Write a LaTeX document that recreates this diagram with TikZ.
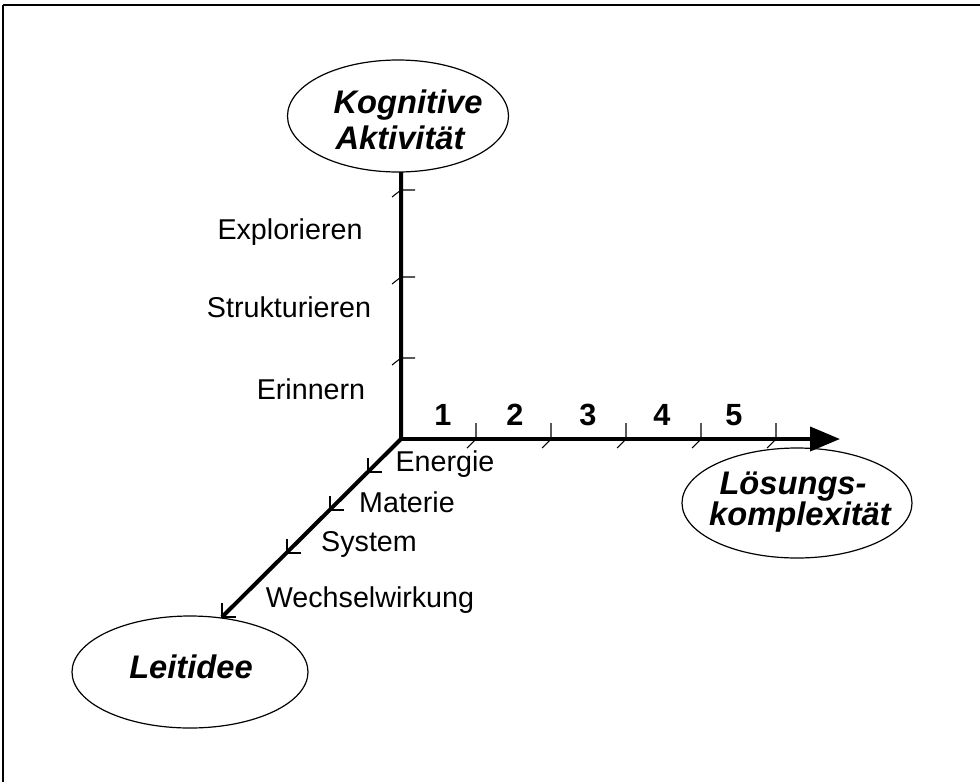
\documentclass[tikz,border=0pt]{standalone}
\usepackage{fontspec}
\setmainfont{Liberation Sans}
\usetikzlibrary{arrows.meta,shapes.geometric}
\begin{document}
\begin{tikzpicture}[x=0.75pt,y=-0.75pt,
 axisline/.style={line width=3pt},
 tickline/.style={line width=0.8pt},
 ell/.style={draw, ellipse, line width=0.9pt, inner sep=0pt},
 lab/.style={font=\fontsize{21.5}{25}\selectfont, anchor=base, inner sep=0pt},
 num/.style={font=\fontsize{23}{27}\selectfont\bfseries, anchor=base, inner sep=0pt},
 ttl/.style={font=\fontsize{24.5}{28}\selectfont\bfseries\itshape, anchor=base, inner sep=0pt}]
\useasboundingbox (0,0) rectangle (980,782);
\draw[line width=1.3pt] (3,5) -- (980,5);
\draw[line width=0.8pt] (3,5) -- (3,782);

% ellipses
\node[ell, minimum width=165.75pt, minimum height=84pt] (K) at (398,116) {};
\node[ell, minimum width=172.5pt, minimum height=82.5pt] (LK) at (797,503) {};
\node[ell, minimum width=177pt, minimum height=84pt] (LI) at (190,672) {};
\node[ttl] (K1) at (408,113) {Kognitive};
\node[ttl] (K2) at (400,149) {Aktivität};
\node[ttl] (LK1) at (793,494) {Lösungs-};
\node[ttl] (LK2) at (800,525) {komplexität};
\node[ttl] (LI1) at (191,678) {Leitidee};

% axes
\coordinate (O) at (401,439);
\coordinate (Ktop) at (401,172);
\coordinate (Hend) at (840,439);
\coordinate (Dend) at (222,617);
\draw[axisline, line join=miter] (Ktop) -- (O) -- (Dend);
\draw[axisline, -{Triangle[length=22.5pt,width=18pt]}] (O) -- (Hend);

% ticks
\foreach \x in {476,551,626,701,776}
  \draw[tickline] (\x,423) -- (\x,439) -- ++(-9,9);
\foreach \y in {358,277,190}
  \draw[tickline] (415,\y) -- (401,\y) -- ++(-9,7);
\foreach \x/\y in {368/472,330/510,287/553,222/617}
  \draw[tickline] (\x,\y-14) -- (\x,\y) -- ++(14,0);

% numbers
\node[num] (n1) at (443,425) {1};
\node[num] (n2) at (515,425) {2};
\node[num] (n3) at (588,425) {3};
\node[num] (n4) at (662,425) {4};
\node[num] (n5) at (734,425) {5};

% vertical labels
\node[lab] (e1) at (290,239) {Explorieren};
\node[lab] (e2) at (289,317) {Strukturieren};
\node[lab] (e3) at (311,399) {Erinnern};

% diagonal labels
\node[lab] (d1) at (445,471) {Energie};
\node[lab] (d2) at (407,512) {Materie};
\node[lab] (d3) at (369,551) {System};
\node[lab] (d4) at (370,607) {Wechselwirkung};
\end{tikzpicture}
\end{document}
